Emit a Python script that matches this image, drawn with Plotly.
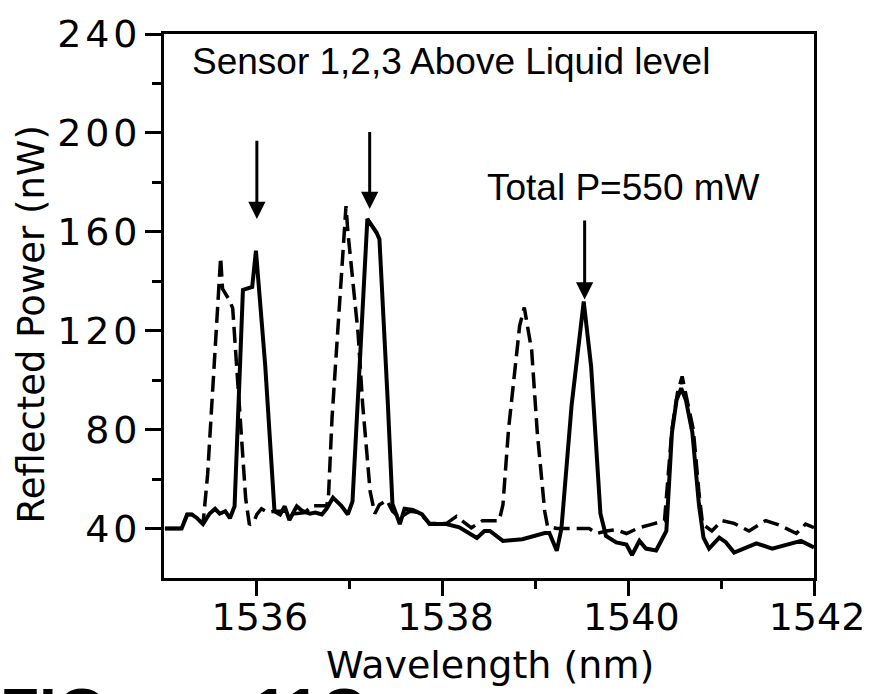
import plotly.graph_objects as go

# Solid trace (sensors above liquid level, after shift)
solid_x = [1535.01, 1535.19, 1535.25, 1535.30, 1535.35, 1535.42, 1535.49, 1535.55, 1535.60, 1535.66,
           1535.71, 1535.76, 1535.85, 1535.95, 1535.99, 1536.09, 1536.19, 1536.25, 1536.30, 1536.35,
           1536.40, 1536.43, 1536.49, 1536.57, 1536.63, 1536.70, 1536.75, 1536.82, 1536.91, 1536.98,
           1537.03, 1537.19, 1537.29, 1537.32, 1537.41, 1537.46, 1537.54, 1537.59, 1537.68, 1537.78,
           1537.86, 1538.04, 1538.18, 1538.37, 1538.45, 1538.51, 1538.65, 1538.86, 1539.10, 1539.15,
           1539.23, 1539.28, 1539.39, 1539.52, 1539.60, 1539.70, 1539.76, 1539.87, 1539.98, 1540.04,
           1540.12, 1540.19, 1540.30, 1540.41, 1540.47, 1540.52, 1540.57, 1540.62, 1540.69, 1540.76,
           1540.81, 1540.87, 1540.98, 1541.05, 1541.14, 1541.26, 1541.38, 1541.55, 1541.73, 1541.86,
           1542.00]
solid_y = [40, 40, 45.7, 45.7, 44.4, 41.8, 46, 48, 46, 47,
           44.2, 49, 136.5, 137.7, 152.4, 106, 47, 45.7, 49, 43.4,
           47, 49, 47.1, 46, 46.5, 45.7, 48, 52.5, 49.2, 45.7,
           51, 165.2, 159.6, 157, 91, 50, 41.8, 48, 47.5, 45.7,
           41.8, 41.8, 40.5, 36.2, 39, 39, 35, 35.7, 38.2, 38.2,
           31, 40, 90, 131.8, 105.5, 46, 37, 34.4, 33.5, 29.3,
           35, 31.9, 31.1, 39, 78.8, 92, 96.7, 92, 78.8, 50,
           36.3, 31.9, 36.3, 34.5, 30.3, 32.3, 34, 31.9, 33.5, 35,
           32.3]

# Dashed trace (reference)
dashed_x = [1535.01, 1535.19, 1535.25, 1535.30, 1535.35, 1535.42, 1535.47, 1535.53, 1535.58, 1535.61,
            1535.63, 1535.71, 1535.74, 1535.78, 1535.84, 1535.88, 1535.92, 1535.97, 1536.00, 1536.05,
            1536.12, 1536.19, 1536.30, 1536.41, 1536.52, 1536.59, 1536.75, 1536.77, 1536.81, 1536.96,
            1536.98, 1537.09, 1537.14, 1537.22, 1537.27, 1537.32, 1537.40, 1537.46, 1537.54, 1537.65,
            1537.75, 1537.86, 1538.04, 1538.15, 1538.31, 1538.43, 1538.61, 1538.65, 1538.71, 1538.78,
            1538.83, 1538.88, 1538.96, 1539.02, 1539.10, 1539.13, 1539.23, 1539.58, 1539.66, 1539.76,
            1539.87, 1539.98, 1540.12, 1540.26, 1540.39, 1540.47, 1540.53, 1540.58, 1540.63, 1540.70,
            1540.76, 1540.80, 1540.90, 1541.01, 1541.14, 1541.30, 1541.48, 1541.62, 1541.81, 1541.91,
            1542.00]
dashed_y = [40, 40, 45.7, 45.7, 44.4, 41.8, 62, 98, 132, 149.7,
            137, 132, 129, 105.5, 73.7, 52, 41.5, 43, 45.7, 48,
            46.5, 47, 47, 46, 46.5, 49.2, 49.2, 52, 85, 170.4,
            160, 119, 90, 55, 46, 49.6, 51.5, 47, 44.4, 47,
            46.5, 42, 42, 44.9, 40.3, 43.2, 43.2, 49.6, 80, 105.5,
            122, 129.4, 111.9, 78.8, 47, 41, 40, 40, 38, 39,
            39.5, 38, 40.4, 41.8, 43.2, 80, 95, 101.5, 93, 80,
            55, 41.8, 39, 43.2, 42.1, 39, 43.2, 41.5, 38, 41.8,
            40.4]

# Arrows marking the sensor peaks (tip / tail in data units)
arrow_x = [1536.0, 1537.215, 1539.53]
arrow_tip = [165.2, 169.2, 132.6]
arrow_tail = [197.4, 201.0, 165.2]

x_ticks = [1536, 1538, 1540, 1542]
x_minor = [1537, 1539, 1541]
y_ticks = [40, 80, 120, 160, 200, 240]
y_minor = [60, 100, 140, 180, 220]

fig = go.Figure()
fig.add_trace(go.Scatter(x=dashed_x, y=dashed_y, mode="lines",
                         line=dict(color="black", width=3.5, dash="16px,7px"),
                         showlegend=False))
fig.add_trace(go.Scatter(x=solid_x, y=solid_y, mode="lines",
                         line=dict(color="black", width=4),
                         showlegend=False))

annotations = []
for ax_, tip, tail in zip(arrow_x, arrow_tip, arrow_tail):
    annotations.append(dict(x=ax_, y=tip, ax=ax_, ay=tail, xref="x", yref="y",
                            axref="x", ayref="y", text="", showarrow=True,
                            arrowhead=2, arrowsize=1.15, arrowwidth=3,
                            arrowcolor="black", standoff=0))

W, H = 877, 694
ML, MR, MT, MB = 164, 62, 25, 116
PW, PH = W - ML - MR, H - MT - MB


def px(xp):
    return (xp - ML) / PW


def py(yp):
    return (H - MB - yp) / PH


annotations += [
    dict(text="Sensor 1,2,3 Above Liquid level", xref="paper", yref="paper",
         x=px(190), y=py(53), xanchor="left", yanchor="middle", showarrow=False,
         font=dict(family="Liberation Sans, Arial", size=37, color="black")),
    dict(text="Total P=550 mW", xref="paper", yref="paper",
         x=px(485), y=py(181), xanchor="left", yanchor="middle", showarrow=False,
         font=dict(family="Liberation Sans, Arial", size=37, color="black")),
    dict(text="Wavelength (nm)", xref="paper", yref="paper",
         x=px(491), y=py(666), xanchor="center", yanchor="middle", showarrow=False,
         font=dict(family="DejaVu Sans", size=38, color="black")),
    dict(text="Reflected Power (nW)", xref="paper", yref="paper", textangle=-90,
         x=px(31), y=py(320), xanchor="center", yanchor="middle", showarrow=False,
         font=dict(family="DejaVu Sans", size=37, color="black")),
    dict(text="FIG.\u2003\u200311C", xref="paper", yref="paper",
         x=px(-2), y=py(676), xanchor="left", yanchor="top", showarrow=False,
         font=dict(family="Liberation Sans, Arial", size=64, color="black", weight="bold")),
]

fig.update_layout(
    width=W, height=H,
    margin=dict(l=ML, r=MR, t=MT, b=MB),
    paper_bgcolor="white", plot_bgcolor="white",
    annotations=annotations,
    showlegend=False,
)
fig.update_xaxes(range=[1535, 1542], showgrid=False, zeroline=False,
                 showline=True, linewidth=3, linecolor="black", mirror=True,
                 tickmode="array", tickvals=x_ticks, ticktext=[str(v) for v in x_ticks],
                 ticks="outside", ticklen=15, tickwidth=3, tickcolor="black",
                 ticklabelstandoff=-12, ticklabelshift=3,
                 tickfont=dict(family="DejaVu Sans", size=38, color="black"),
                 minor=dict(tickmode="array", tickvals=x_minor, ticks="outside",
                            ticklen=8, tickwidth=2.5, tickcolor="black"))
fig.update_yaxes(range=[20, 240], showgrid=False, zeroline=False,
                 showline=True, linewidth=3, linecolor="black", mirror=True,
                 tickmode="array", tickvals=y_ticks,
                 ticktext=["\u200a".join(str(v)) for v in y_ticks],
                 ticks="outside", ticklen=16, tickwidth=3, tickcolor="black",
                 tickfont=dict(family="DejaVu Sans", size=38, color="black"),
                 minor=dict(tickmode="array", tickvals=y_minor, ticks="outside",
                            ticklen=9, tickwidth=2.5, tickcolor="black"))

fig.write_html("out.html")
